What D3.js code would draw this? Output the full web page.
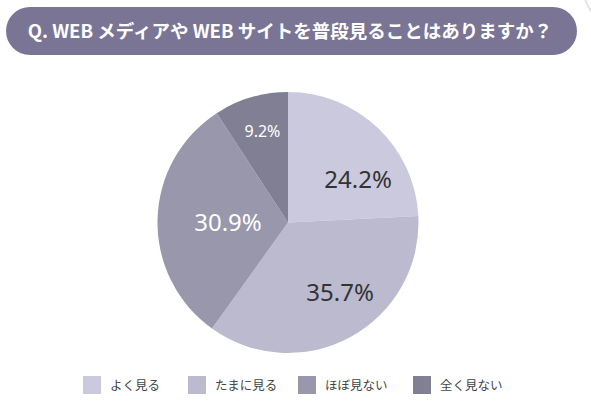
<!DOCTYPE html>
<html>
<head>
<meta charset="utf-8">
<script src="https://cdn.jsdelivr.net/npm/d3@7"></script>
<style>
  html, body { margin: 0; padding: 0; background: #fff; }
  svg { display: block; }
</style>
</head>
<body>
<script>
  var title = "Q. WEB メディアや WEB サイトを普段見ることはありますか？";
  var categories = ["よく見る", "たまに見る", "ほぼ見ない", "全く見ない"];
  var values = [24.2, 35.7, 30.9, 9.2];
  var colors = ["#cac9dd", "#bbbacf", "#9897ab", "#817f94"];

  var w = 591, h = 403;
  var cx = 288, cy = 222.5, r = 130.5;

  var svg = d3.select("body").append("svg")
      .attr("width", w)
      .attr("height", h);

  // faint decorative circle in the corner
  svg.append("circle")
      .attr("cx", 640)
      .attr("cy", -20)
      .attr("r", 58)
      .attr("fill", "none")
      .attr("stroke", "#e4e3ec")
      .attr("stroke-width", 2);

  // title pill
  svg.append("rect")
      .attr("x", 6)
      .attr("y", 7)
      .attr("width", 571)
      .attr("height", 48)
      .attr("rx", 24)
      .attr("fill", "#7a7595");

  svg.append("text")
      .attr("x", 290)
      .attr("y", 38)
      .attr("text-anchor", "middle")
      .attr("fill", "#fff")
      .style("font-family", "'Noto Sans CJK JP', 'Noto Sans', sans-serif")
      .style("font-weight", "700")
      .style("font-size", "18.5px")
      .text(title);

  var pie = d3.pie().sort(null).value(function (d) { return d; });
  var arcs = pie(values);

  var arc = d3.arc().innerRadius(0).outerRadius(r);

  var g = svg.append("g").attr("transform", "translate(" + cx + "," + cy + ")");

  g.selectAll("path")
      .data(arcs)
      .enter().append("path")
      .attr("d", arc)
      .attr("fill", function (d, i) { return colors[i]; });

  // label placement: radius factor and angle nudge per slice
  var labR = [0.63, 0.67, 0.46, 0.73];
  var labDa = [15, -8, -1, 1];
  var labSize = [24, 24, 24, 16];
  var labFill = ["#333", "#333", "#fff", "#fff"];

  g.selectAll("text.lab")
      .data(arcs)
      .enter().append("text")
      .attr("class", "lab")
      .attr("x", function (d, i) {
        var a = (d.startAngle + d.endAngle) / 2 + labDa[i] * Math.PI / 180;
        return Math.sin(a) * r * labR[i];
      })
      .attr("y", function (d, i) {
        var a = (d.startAngle + d.endAngle) / 2 + labDa[i] * Math.PI / 180;
        return -Math.cos(a) * r * labR[i];
      })
      .attr("dy", "0.36em")
      .attr("text-anchor", "middle")
      .attr("fill", function (d, i) { return labFill[i]; })
      .style("font-family", "'Noto Sans', sans-serif")
      .style("font-size", function (d, i) { return labSize[i] + "px"; })
      .text(function (d) { return d.value.toFixed(1) + "%"; });

  // legend
  var lxs = [83, 188, 298, 413];
  var leg = svg.append("g").selectAll("g")
      .data(categories)
      .enter().append("g")
      .attr("transform", function (d, i) { return "translate(" + lxs[i] + ",376)"; });

  leg.append("rect")
      .attr("width", 18)
      .attr("height", 18)
      .attr("fill", function (d, i) { return colors[i]; });

  leg.append("text")
      .attr("x", 27)
      .attr("y", 14)
      .attr("fill", "#444")
      .style("font-family", "'Noto Sans CJK JP', sans-serif")
      .style("font-size", "12.5px")
      .text(function (d) { return d; });
</script>
</body>
</html>
